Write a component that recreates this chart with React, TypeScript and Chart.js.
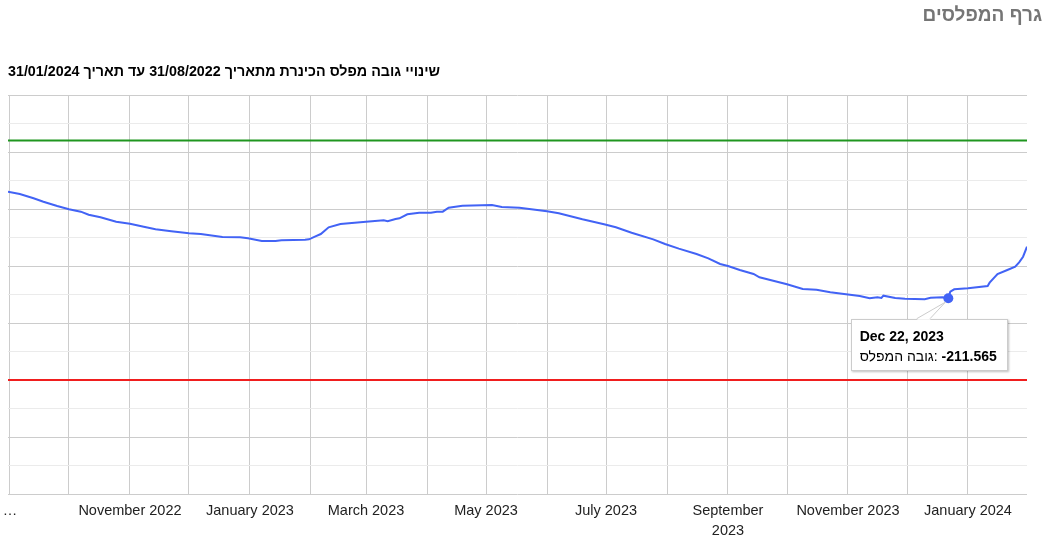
import React, { useEffect, useRef, useState } from 'react';
import { Chart, registerables } from 'chart.js';

Chart.register(...registerables);

// ---------- data ----------
const START = '2022-08-31';
const END = '2024-01-31';

const dates = [
  '2022-08-31', '2022-09-06', '2022-09-13', '2022-09-18', '2022-09-25', '2022-10-01', '2022-10-07',
  '2022-10-11', '2022-10-17', '2022-10-25', '2022-11-01', '2022-11-08', '2022-11-14', '2022-11-22',
  '2022-12-01', '2022-12-07', '2022-12-18', '2022-12-27', '2022-12-31', '2023-01-07', '2023-01-14',
  '2023-01-17', '2023-01-29', '2023-01-31', '2023-02-03', '2023-02-06', '2023-02-10', '2023-02-16',
  '2023-03-01', '2023-03-10', '2023-03-12', '2023-03-16', '2023-03-18', '2023-03-22', '2023-03-28',
  '2023-04-03', '2023-04-06', '2023-04-09', '2023-04-12', '2023-04-19', '2023-04-29', '2023-05-04',
  '2023-05-09', '2023-05-18', '2023-06-01', '2023-06-07', '2023-06-19', '2023-06-30', '2023-07-06',
  '2023-07-14', '2023-07-25', '2023-07-31', '2023-08-07', '2023-08-16', '2023-08-22', '2023-08-28',
  '2023-09-01', '2023-09-07', '2023-09-14', '2023-09-17', '2023-09-26', '2023-10-01', '2023-10-09',
  '2023-10-16', '2023-10-23', '2023-10-31', '2023-11-07', '2023-11-12', '2023-11-16', '2023-11-18',
  '2023-11-19', '2023-11-25', '2023-11-30', '2023-12-10', '2023-12-13', '2023-12-19', '2023-12-22',
  '2023-12-23', '2023-12-25', '2024-01-01', '2024-01-11', '2024-01-12', '2024-01-16', '2024-01-21',
  '2024-01-25', '2024-01-27', '2024-01-29', '2024-01-31',
];

const levels = [
  -209.696, -209.737, -209.812, -209.872, -209.947, -210.005, -210.047,
  -210.100, -210.146, -210.223, -210.258, -210.311, -210.356, -210.391,
  -210.426, -210.439, -210.491, -210.496, -210.514, -210.561, -210.561,
  -210.549, -210.539, -210.532, -210.486, -210.439, -210.321, -210.263,
  -210.223, -210.198, -210.216, -210.175, -210.163, -210.093, -210.065,
  -210.065, -210.047, -210.047, -209.977, -209.942, -209.935, -209.930,
  -209.965, -209.977, -210.040, -210.075, -210.181, -210.268, -210.321,
  -210.416, -210.532, -210.614, -210.696, -210.789, -210.865, -210.965,
  -211.000, -211.070, -211.140, -211.198, -211.275, -211.321, -211.404,
  -211.416, -211.461, -211.496, -211.526, -211.567, -211.549, -211.561,
  -211.521, -211.561, -211.573, -211.584, -211.556, -211.549, -211.565,
  -211.451, -211.409, -211.391, -211.351, -211.293, -211.140, -211.070,
  -211.012, -210.935, -210.837, -210.661,
];

const monthTicks = [
  '2022-09-01', '2022-10-01', '2022-11-01', '2022-12-01', '2023-01-01', '2023-02-01',
  '2023-03-01', '2023-04-01', '2023-05-01', '2023-06-01', '2023-07-01', '2023-08-01',
  '2023-09-01', '2023-10-01', '2023-11-01', '2023-12-01', '2024-01-01',
];

const monthLabels: (string | string[])[] = [
  '…', '', 'November 2022', '', 'January 2023', '', 'March 2023', '', 'May 2023', '',
  'July 2023', '', ['September', '2023'], '', 'November 2023', '', 'January 2024',
];

const upperLine = -208.8;
const lowerLine = -213;
const yMin = -215;
const yMax = -208;
const yStep = 0.5;

const highlightDate = '2023-12-22';
const titleText = 'גרף המפלסים';
const subtitleText = 'שינויי גובה מפלס הכינרת מתאריך 31/08/2022 עד תאריך 31/01/2024';
const seriesName = 'גובה המפלס';

// ---------- styles ----------
const BLUE = '#4263f5';
const GREEN = '#1f961f';
const RED = '#f01e1e';
const FONT = 'Arial, "Liberation Sans", sans-serif';

const DAY = 86400000;
const dayNum = (s: string) => (Date.parse(s + 'T00:00:00Z') - Date.parse(START + 'T00:00:00Z')) / DAY;

export default function App() {
  const ref = useRef<HTMLCanvasElement>(null);
  const [tip, setTip] = useState<{ x: number; y: number } | null>(null);

  useEffect(() => {
    const tickVals = monthTicks.map(dayNum);
    const yTicks: number[] = [];
    for (let v = yMin; v <= yMax + 1e-9; v += yStep) yTicks.push(Math.round(v * 10) / 10);
    const endDay = dayNum(END);

    const chart = new Chart(ref.current!, {
      type: 'line',
      data: {
        datasets: [
          {
            label: seriesName,
            data: dates.map((d, i) => ({ x: dayNum(d), y: levels[i] })),
            borderColor: BLUE,
            backgroundColor: BLUE,
            borderWidth: 2,
            pointRadius: 0,
            pointHoverRadius: 5,
            pointHoverBorderWidth: 0,
            pointHoverBackgroundColor: BLUE,
            pointHoverBorderColor: BLUE,
            tension: 0,
            order: 0,
          },
          {
            label: 'upper',
            data: [{ x: 0, y: upperLine }, { x: endDay, y: upperLine }],
            borderColor: GREEN,
            borderWidth: 2,
            pointRadius: 0,
            order: 1,
          },
          {
            label: 'lower',
            data: [{ x: 0, y: lowerLine }, { x: endDay, y: lowerLine }],
            borderColor: RED,
            borderWidth: 2,
            pointRadius: 0,
            order: 1,
          },
        ],
      },
      options: {
        responsive: false,
        animation: false,
        events: [],
        layout: { padding: { left: 8, right: 25, top: 95, bottom: 0 } },
        plugins: {
          legend: { display: false },
          tooltip: { enabled: false },
          title: { display: false },
        },
        scales: {
          x: {
            type: 'linear',
            min: 0,
            max: endDay,
            afterBuildTicks: (s: any) => {
              s.ticks = tickVals.map((v) => ({ value: v }));
            },
            afterFit: (s: any) => {
              s.height = 46;
              s.paddingLeft = 0;
              s.paddingRight = 0;
            },
            ticks: {
              autoSkip: false,
              maxRotation: 0,
              minRotation: 0,
              padding: 7,
              color: '#222222',
              font: { family: FONT, size: 14.5, lineHeight: '20px' as any },
              callback: (_v: any, i: number) => monthLabels[i] ?? '',
            },
            grid: { color: '#cccccc', drawTicks: false, lineWidth: 1 },
            border: { display: false },
          },
          y: {
            type: 'linear',
            min: yMin,
            max: yMax,
            afterBuildTicks: (s: any) => {
              s.ticks = yTicks.map((v) => ({ value: v }));
            },
            afterFit: (s: any) => {
              s.width = 0;
            },
            ticks: { display: false },
            grid: {
              color: (ctx: any) => (Number.isInteger(ctx.tick?.value) ? '#cccccc' : '#ebebeb'),
              drawTicks: false,
              lineWidth: 1,
            },
            border: { display: false },
          },
        },
      },
    });

    const idx = dates.indexOf(highlightDate);
    chart.setActiveElements([{ datasetIndex: 0, index: idx }]);
    chart.update();
    const el: any = chart.getDatasetMeta(0).data[idx];
    setTip({ x: el.x, y: el.y });

    return () => chart.destroy();
  }, []);

  const hIdx = dates.indexOf(highlightDate);
  const dateLabel = new Date(highlightDate + 'T00:00:00Z').toLocaleDateString('en-US', {
    month: 'short',
    day: 'numeric',
    year: 'numeric',
    timeZone: 'UTC',
  });

  return (
    <div style={{ position: 'absolute', left: 0, top: 0, width: 1052, height: 540, overflow: 'hidden', background: '#fff', fontFamily: FONT }}>
      <canvas ref={ref} width={1052} height={540} style={{ position: 'absolute', left: 0, top: 0, width: 1052, height: 540, display: 'block' }} />
      <div
        dir="rtl"
        style={{ position: 'absolute', right: 10, top: 4, fontSize: 19, fontWeight: 'bold', color: '#757575', lineHeight: '22px', whiteSpace: 'nowrap' }}
      >
        {titleText}
      </div>
      <div style={{ position: 'absolute', left: 8, top: 62, fontSize: 14.3, fontWeight: 'bold', color: '#000', lineHeight: '18px', whiteSpace: 'nowrap' }}>
        <span dir="rtl" style={{ unicodeBidi: 'isolate' }}>{subtitleText}</span>
      </div>
      {tip && (
        <>
          <div
            style={{
              position: 'absolute',
              left: tip.x - 97.6,
              top: tip.y + 20.3,
              width: 157,
              height: 52,
              boxSizing: 'border-box',
              background: '#fff',
              border: '1px solid #cccccc',
              boxShadow: '1px 1px 2px rgba(0,0,0,0.25)',
              color: '#000',
              fontSize: 14,
              lineHeight: '20px',
              padding: '6px 0 0 8px',
              whiteSpace: 'nowrap',
            }}
          >
            <div style={{ fontWeight: 'bold' }}>{dateLabel}</div>
            <div>
              <span dir="rtl" style={{ unicodeBidi: 'isolate' }}>{seriesName}</span>: <b>{levels[hIdx].toFixed(3)}</b>
            </div>
          </div>
          <svg width={1052} height={540} style={{ position: 'absolute', left: 0, top: 0, pointerEvents: 'none' }}>
            <polygon
              points={`${tip.x - 31.6},${tip.y + 21.5} ${tip.x - 18.3},${tip.y + 21.5} ${tip.x - 3},${tip.y + 4}`}
              fill="#fff"
            />
            <line x1={tip.x - 31.6} y1={tip.y + 20.5} x2={tip.x - 3} y2={tip.y + 4} stroke="#cccccc" strokeWidth={1} />
            <line x1={tip.x - 18.3} y1={tip.y + 20.5} x2={tip.x - 3} y2={tip.y + 4} stroke="#cccccc" strokeWidth={1} />
          </svg>
        </>
      )}
    </div>
  );
}
